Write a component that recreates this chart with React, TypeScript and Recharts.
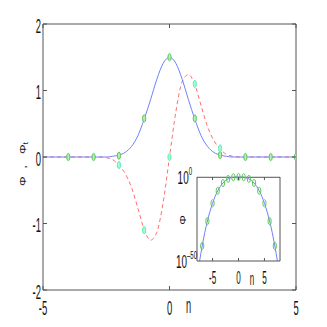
import React from 'react';
import { ComposedChart, Line, Scatter, XAxis, YAxis, ReferenceLine } from 'recharts';

// main panel: phi and its time derivative on the lattice
const nGrid = [-5, -4, -3, -2.75, -2.5, -2.25, -2, -1.75, -1.5, -1.25, -1, -0.75, -0.5, -0.25, 0,
  0.25, 0.5, 0.75, 1, 1.25, 1.5, 1.75, 2, 2.25, 2.5, 2.75, 3, 4, 5];
const phi = [0, 0, 0, 0, 0, 0.01, 0.03, 0.07, 0.16, 0.32, 0.57, 0.86, 1.17, 1.41, 1.5,
  1.41, 1.17, 0.86, 0.57, 0.32, 0.16, 0.07, 0.03, 0.01, 0, 0, 0, 0, 0];
const phiT = [0, 0, 0, 0, -0.01, -0.04, -0.12, -0.25, -0.46, -0.77, -1.09, -1.25, -1.13, -0.68, 0,
  0.68, 1.13, 1.24, 1.09, 0.77, 0.46, 0.25, 0.12, 0.04, 0.01, 0, 0, 0, 0];

const siteN = [-4, -3, -2, -1, 0, 1, 2, 3, 4, 5];
const sitePhi = [0, 0, 0.02, 0.58, 1.5, 0.58, 0.03, 0, 0, 0];
const siteTN = [-2, -1, 0, 1, 2];
const sitePhiT = [-0.12, -1.1, 0, 1.1, 0.13];

const mainXTicks = [-5, 0, 5];
const mainYTicks = [-2, -1, 0, 1, 2];

// inset: |phi| on a log scale
const insetN = [-7.5, -7, -6.5, -6, -5.5, -5, -4.5, -4, -3.5, -3, -2.5, -2, -1.5, -1, -0.5, 0,
  0.5, 1, 1.5, 2, 2.5, 3, 3.5, 4, 4.5, 5, 5.5, 6, 6.5, 7, 7.5];
const insetPhi = [1e-50, 1e-41, 1e-33, 6e-27, 4e-21, 3e-16, 4e-12, 8.5e-9, 3.6e-6, 3.7e-4, 0.011, 0.11, 0.49, 1.07, 1.45, 1.5,
  1.45, 1.07, 0.49, 0.11, 0.011, 3.7e-4, 3.6e-6, 8.5e-9, 4e-12, 3e-16, 4e-21, 6e-27, 1e-33, 1e-41, 1e-50];
const insetSiteN = [-7, -6, -5, -4, -3, -2, -1, 0, 1, 2, 3, 4, 5, 6, 7];
const insetSitePhi = [1e-41, 6e-27, 3e-16, 8.5e-9, 3.7e-4, 0.11, 1.07, 1.5, 1.07, 0.11, 3.7e-4, 8.5e-9, 3e-16, 6e-27, 1e-41];
const insetXTicks = [-5, 0, 5];
const insetYTicks = [1e-50, 1];

const zip = (xs: number[], ys: number[]) => xs.map((x, i) => ({ x, y: ys[i] }));

const MAIN = { left: 43, right: 296, top: 24, bottom: 290 };
const INSET = { left: 197, right: 280, top: 177, bottom: 261 };

const AXIS = '#555';
const INK = '#111';
const BLUE = '#7080ff';
const RED = '#ff6f6f';
const GREEN = '#5cc65c';
const CYAN = '#5ef0b8';
const FONT = '"Liberation Sans", Arial, sans-serif';

const narrow = (x: number, y: number, sx = 0.45) => `translate(${x},${y}) scale(${sx},1)`;

const MainXTick = ({ x, payload }: any) => (
  <g>
    <line x1={x} y1={MAIN.bottom} x2={x} y2={MAIN.bottom - 4} stroke={AXIS} />
    <line x1={x} y1={MAIN.top} x2={x} y2={MAIN.top + 4} stroke={AXIS} />
    <text transform={narrow(x, MAIN.bottom + 17)} textAnchor="middle" dominantBaseline="central"
      fontSize={21} fontFamily={FONT} fill={INK}>{payload.value}</text>
  </g>
);

const MainYTick = ({ y, payload }: any) => (
  <g>
    <line x1={MAIN.left} y1={y} x2={MAIN.left + 4} y2={y} stroke={AXIS} />
    <line x1={MAIN.right} y1={y} x2={MAIN.right - 4} y2={y} stroke={AXIS} />
    <text transform={narrow(MAIN.left - 2, y + 1)} textAnchor="end" dominantBaseline="central"
      fontSize={21} fontFamily={FONT} fill={INK}>{payload.value}</text>
  </g>
);

const InsetXTick = ({ x, payload }: any) => (
  <g>
    <line x1={x} y1={INSET.bottom} x2={x} y2={INSET.bottom - 3} stroke={AXIS} />
    <line x1={x} y1={INSET.top} x2={x} y2={INSET.top + 3} stroke={AXIS} />
    <text transform={narrow(x, INSET.bottom + 17)} textAnchor="middle" dominantBaseline="central"
      fontSize={18} fontFamily={FONT} fill={INK}>{payload.value}</text>
  </g>
);

const InsetYTick = ({ y, payload }: any) => {
  const top = payload.value >= 1;
  return (
    <text transform={narrow(INSET.left - (top ? 5 : 0), y + 7, 0.55)} textAnchor="end"
      fontSize={18} fontFamily={FONT} fill={INK}>
      10
      <tspan fontSize={11} dy={-9}>{top ? '0' : '\u201350'}</tspan>
    </text>
  );
};

const Site = (color: string, fill: string) => (p: any) => (
  <ellipse cx={p.cx} cy={p.cy} rx={1.6} ry={3.6} stroke={color} strokeWidth={1} fill={fill} />
);

export default function App() {
  return (
    <div style={{ position: 'absolute', left: 0, top: 0, width: 327, height: 327, background: '#fff' }}>
      <div style={{ position: 'absolute', left: 0, top: 0 }}>
        <ComposedChart width={327} height={327} margin={{ top: 24, right: 31, left: 13, bottom: 7 }}>
          <XAxis type="number" dataKey="x" domain={[-5, 5]} ticks={mainXTicks} interval={0}
            allowDataOverflow height={30} tickSize={0} tickLine={false} stroke={AXIS} tick={MainXTick} />
          <YAxis type="number" dataKey="y" domain={[-2, 2]} ticks={mainYTicks} interval={0}
            allowDataOverflow width={30} tickSize={0} tickLine={false} stroke={AXIS} tick={MainYTick} />
          <ReferenceLine y={2} stroke={AXIS} />
          <ReferenceLine x={5} stroke={AXIS} />
          <Line data={zip(nGrid, phiT)} dataKey="y" type="monotone" stroke={RED} strokeWidth={1}
            strokeDasharray="4 3" dot={false} isAnimationActive={false} />
          <Line data={zip(nGrid, phi)} dataKey="y" type="monotone" stroke={BLUE} strokeWidth={1}
            dot={false} isAnimationActive={false} />
          <Scatter data={zip(siteN, sitePhi)} shape={Site(GREEN, '#b8ecb8')} isAnimationActive={false} />
          <Scatter data={zip(siteTN, sitePhiT)} shape={Site(CYAN, '#a8f8dc')} isAnimationActive={false} />
        </ComposedChart>
      </div>
      <div style={{ position: 'absolute', left: 0, top: 0 }}>
        <ComposedChart width={327} height={327} margin={{ top: 177, right: 47, left: 177, bottom: 46 }}>
          <XAxis type="number" dataKey="x" domain={[-8, 8]} ticks={insetXTicks} interval={0}
            allowDataOverflow height={20} tickSize={0} tickLine={false} stroke={AXIS} tick={InsetXTick} />
          <YAxis type="number" dataKey="y" scale="log" domain={[1e-50, 1]} ticks={insetYTicks} interval={0}
            width={20} tickSize={0} tickLine={false} stroke={AXIS} tick={InsetYTick} />
          <ReferenceLine y={1} stroke={AXIS} />
          <ReferenceLine x={8} stroke={AXIS} />
          <Line data={zip(insetN, insetPhi)} dataKey="y" type="monotone" stroke={BLUE} strokeWidth={1}
            dot={false} isAnimationActive={false} />
          <Scatter data={zip(insetSiteN, insetSitePhi)} shape={Site(GREEN, 'none')} isAnimationActive={false} />
        </ComposedChart>
      </div>
      <svg width={327} height={327} style={{ position: 'absolute', left: 0, top: 0, pointerEvents: 'none' }}>
        <text transform="translate(22,164) scale(0.8,1) rotate(-90)" textAnchor="middle" dominantBaseline="central"
          fontSize={12} fontFamily={FONT} fill={INK}>
          Φ
          <tspan dx={8}>,</tspan>
          <tspan dx={11}>Φ</tspan>
          <tspan fontSize={9} dy={4}>t</tspan>
        </text>
        <text transform={narrow(188.5, 306, 0.42)} textAnchor="middle" dominantBaseline="central"
          fontSize={22} fontFamily={FONT} fill={INK}>n</text>
        <text transform="translate(182,220) scale(0.8,1) rotate(-90)" textAnchor="middle" dominantBaseline="central"
          fontSize={12} fontFamily={FONT} fill={INK}>Φ</text>
        <text transform={narrow(252, 278, 0.42)} textAnchor="middle" dominantBaseline="central"
          fontSize={19} fontFamily={FONT} fill={INK}>n</text>
      </svg>
    </div>
  );
}
